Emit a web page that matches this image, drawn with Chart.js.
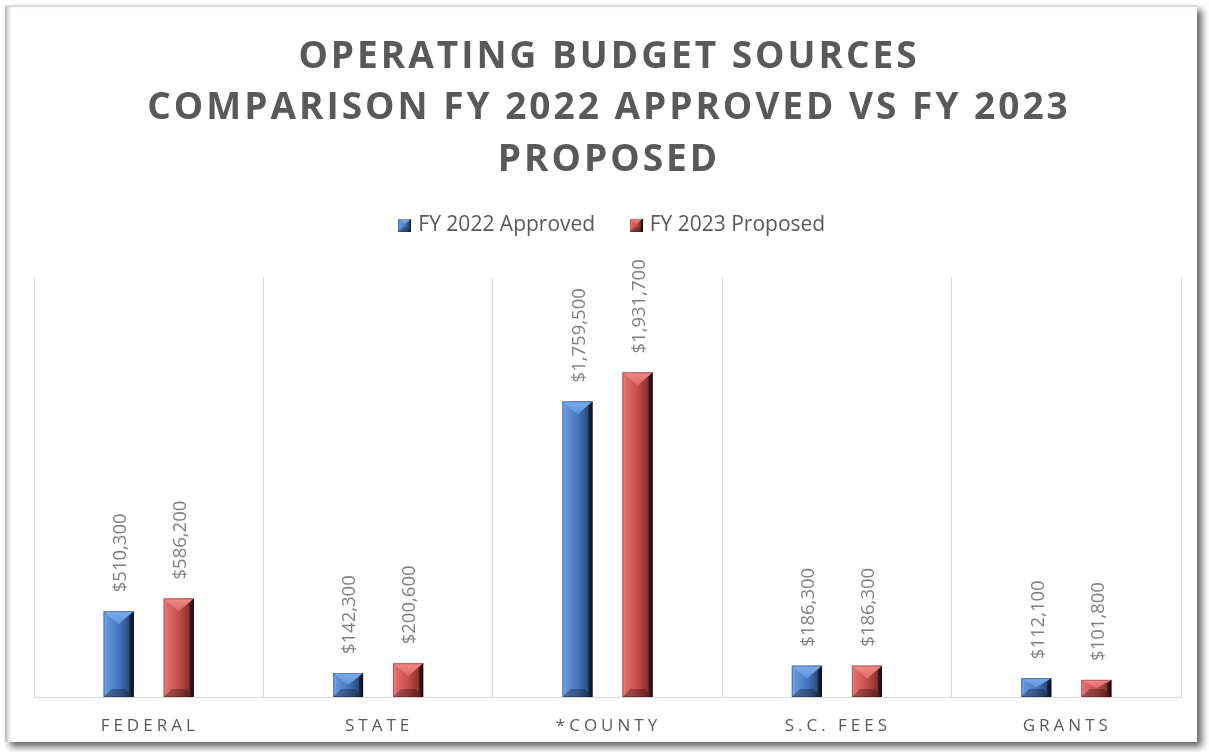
<!DOCTYPE html>
<html><head><meta charset="utf-8">
<script src="https://cdn.jsdelivr.net/npm/chart.js@4.4.1/dist/chart.umd.min.js"></script>
<style>
html,body{margin:0;padding:0;background:#fff;width:1209px;height:752px;overflow:hidden;}
#frame{position:absolute;left:5px;top:5px;width:1192px;height:735px;background:#fff;border-top:2px solid #dadada;
 box-shadow: inset 5px 0 4px -2px #b8b8b8, 5px 5px 7px rgba(0,0,0,0.6);}
#c{position:absolute;left:0;top:0;}
</style></head><body>
<div id="frame"></div>
<canvas id="c" width="1209" height="752"></canvas>
<script>
// ---- data ----
const titleLines = ['OPERATING BUDGET SOURCES', 'COMPARISON FY 2022 APPROVED VS FY 2023', 'PROPOSED'];
const categories = ['FEDERAL', 'STATE', '*COUNTY', 'S.C. FEES', 'GRANTS'];
const seriesNames = ['FY 2022 Approved', 'FY 2023 Proposed'];
const fy2022Approved = [510300, 142300, 1759500, 186300, 112100];
const fy2023Proposed = [586200, 200600, 1931700, 186300, 101800];
const yMax = 2500000;

// ---- styles ----
const FONT = '"Open Sans", "DejaVu Sans", sans-serif';
const palettes = [
  {light:'#6393d8', mid:'#4676c0', dark2:'#2c5187', dark:'#15263f', top:'#7aaef0', topEnd:'#5f93da'},
  {light:'#df6a67', mid:'#c44e4b', dark2:'#8e3331', dark:'#4a1414', top:'#f48b88', topEnd:'#da6663'}
];

function drawBevel(ctx, L, T, w, h, c, dtMax, dbMax, edge) {
  const R = L + w, B = T + h, cx = L + w / 2;
  const g = ctx.createLinearGradient(L, 0, R, 0);
  g.addColorStop(0, c.light); g.addColorStop(0.12, c.light);
  g.addColorStop(0.5, c.mid); g.addColorStop(0.82, c.dark2); g.addColorStop(1, c.dark);
  ctx.fillStyle = g;
  ctx.fillRect(L, T, w, h);
  const db = Math.min(dbMax, h / 2);
  ctx.fillStyle = 'rgba(0,0,0,0.28)';
  ctx.beginPath(); ctx.moveTo(L, B); ctx.lineTo(R, B); ctx.lineTo(R - db, B - db); ctx.lineTo(L + db, B - db); ctx.closePath(); ctx.fill();
  ctx.fillStyle = 'rgba(0,0,0,0.45)';
  ctx.beginPath(); ctx.moveTo(R, T); ctx.lineTo(R, B); ctx.lineTo(R - edge, B - edge); ctx.lineTo(R - edge, T + edge); ctx.closePath(); ctx.fill();
  ctx.fillStyle = 'rgba(255,255,255,0.12)';
  ctx.beginPath(); ctx.moveTo(L, T); ctx.lineTo(L, B); ctx.lineTo(L + edge * 0.7, B - edge); ctx.lineTo(L + edge * 0.7, T + edge); ctx.closePath(); ctx.fill();
  const dt = Math.min(dtMax, h / 2);
  const tg = ctx.createLinearGradient(0, T, 0, T + dt);
  tg.addColorStop(0, c.top); tg.addColorStop(1, c.topEnd);
  ctx.fillStyle = tg;
  ctx.beginPath(); ctx.moveTo(L, T); ctx.lineTo(R, T); ctx.lineTo(cx, T + dt); ctx.closePath(); ctx.fill();
  ctx.fillStyle = 'rgba(0,0,0,0.18)';
  ctx.beginPath(); ctx.moveTo(R, T); ctx.lineTo(cx + w * 0.18, T + dt * 0.64); ctx.lineTo(cx, T + dt); ctx.closePath(); ctx.fill();
  ctx.strokeStyle = 'rgba(0,0,0,0.25)'; ctx.lineWidth = 1;
  ctx.strokeRect(L + 0.5, T + 0.5, w - 1, h - 1);
}

function legendIcon(c) {
  const cv = document.createElement('canvas');
  cv.width = 13; cv.height = 13;
  drawBevel(cv.getContext('2d'), 0, 0, 13, 13, c, 6, 4, 2);
  return cv;
}
const legendIcons = palettes.map(legendIcon);

const bevelPlugin = {
  id: 'bevelBars',
  afterDatasetsDraw(chart) {
    const ctx = chart.ctx;
    ctx.save();
    chart.data.datasets.forEach((ds, i) => {
      const meta = chart.getDatasetMeta(i);
      meta.data.forEach((bar, j) => {
        const p = bar.getProps(['x', 'y', 'base', 'width'], true);
        const L = p.x - p.width / 2, T = Math.min(p.y, p.base), h = Math.abs(p.base - p.y);
        drawBevel(ctx, L, T, p.width, h, palettes[i], 13, 8, 4);
        ctx.save();
        ctx.translate(p.x + 2, T - 19);
        ctx.rotate(-Math.PI / 2);
        ctx.font = '18.5px ' + FONT;
        ctx.fillStyle = '#808080';
        ctx.textAlign = 'left';
        ctx.textBaseline = 'middle';
        ctx.fillText('$' + ds.data[j].toLocaleString('en-US'), 0, 0);
        ctx.restore();
      });
    });
    ctx.restore();
  }
};

const textPlugin = {
  id: 'spacedText',
  afterDraw(chart) {
    const ctx = chart.ctx;
    ctx.save();
    ctx.fillStyle = '#595959';
    ctx.textAlign = 'center';
    ctx.textBaseline = 'middle';
    ctx.font = 'bold 37px ' + FONT;
    ctx.letterSpacing = '3px';
    titleLines.forEach((t, i) => ctx.fillText(t, 609, 57 + i * 51.5));
    ctx.font = '17px ' + FONT;
    ctx.letterSpacing = '4px';
    const xs = chart.scales.x;
    categories.forEach((c, i) => ctx.fillText(c, xs.getPixelForValue(i) + 1, 726));
    ctx.restore();
  }
};

const legendFont = 21;
const legendPad = 38;
const legendTop = 225 - legendPad - legendFont / 2;
const legendShiftX = 6;
const legendSpacer = {
  id: 'legendSpacer',
  beforeInit(chart) {
    const lg = chart.legend;
    const origFit = lg.fit;
    lg.fit = function () {
      origFit.call(this);
      this.height = 277 - legendTop;
    };
    const origDraw = lg.draw;
    lg.draw = function () {
      const ctx = this.ctx;
      ctx.save();
      ctx.translate(legendShiftX, 0);
      origDraw.apply(this, arguments);
      ctx.restore();
    };
  }
};

new Chart(document.getElementById('c'), {
  type: 'bar',
  data: {
    labels: categories,
    datasets: [
      {label: seriesNames[0], data: fy2022Approved, backgroundColor: palettes[0].mid, categoryPercentage: 0.524, barPercentage: 0.5},
      {label: seriesNames[1], data: fy2023Proposed, backgroundColor: palettes[1].mid, categoryPercentage: 0.524, barPercentage: 0.5}
    ]
  },
  options: {
    responsive: false,
    animation: false,
    layout: {padding: {left: 34, right: 28, top: legendTop, bottom: 55}},
    scales: {
      x: {
        grid: {color: '#d9d9d9', lineWidth: 1, drawTicks: false, offset: true},
        border: {color: '#d9d9d9'},
        ticks: {display: false}
      },
      y: {display: false, min: 0, max: yMax}
    },
    plugins: {
      title: {display: false},
      tooltip: {enabled: false},
      legend: {
        position: 'top',
        labels: {
          usePointStyle: true,
          pointStyleWidth: 6,
          boxWidth: 13, boxHeight: 13,
          padding: legendPad,
          color: '#595959',
          font: {family: FONT, size: legendFont},
          generateLabels(chart) {
            const items = Chart.defaults.plugins.legend.labels.generateLabels(chart);
            items.forEach((it, i) => { it.pointStyle = legendIcons[i]; });
            return items;
          }
        }
      }
    }
  },
  plugins: [legendSpacer, bevelPlugin, textPlugin]
});
</script>
</body></html>
